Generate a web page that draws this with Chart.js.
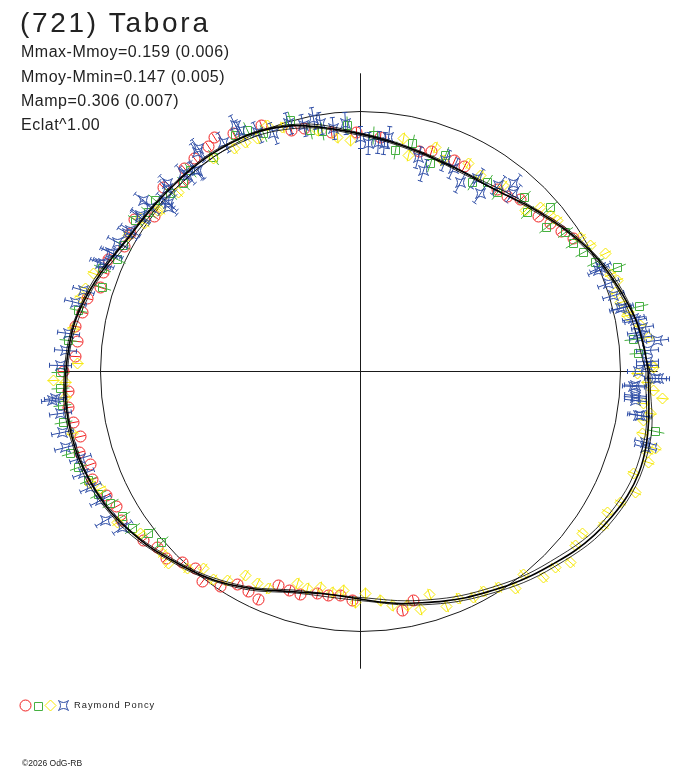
<!DOCTYPE html>
<html>
<head>
<meta charset="utf-8">
<script src="https://cdn.jsdelivr.net/npm/chart.js@4.4.1/dist/chart.umd.min.js"></script>
<style>
  html, body { margin: 0; padding: 0; background: #fff; }
  #wrap { position: relative; width: 688px; height: 768px; overflow: hidden; }
  #plot { position: absolute; left: 0; top: 0; }
  .txt { position: absolute; font-family: 'Liberation Sans', Arial, sans-serif; color: #222; white-space: nowrap; line-height: 1; }
  #title { left: 20px; top: 8.5px; font-size: 28px; letter-spacing: 2.7px; }
  .stat { left: 21px; font-size: 16px; letter-spacing: 0.5px; }
  #observer { left: 74px; top: 701px; font-size: 9.3px; letter-spacing: 1px; }
  #copy { left: 22px; top: 759px; font-size: 8.5px; }
</style>
</head>
<body>
<div id="wrap">
  <canvas id="plot" width="688" height="768"></canvas>
  <div class="txt" id="title">(721) Tabora</div>
  <div class="txt stat" style="top:44px">Mmax-Mmoy=0.159 (0.006)</div>
  <div class="txt stat" style="top:68.5px">Mmoy-Mmin=0.147 (0.005)</div>
  <div class="txt stat" style="top:93px">Mamp=0.306 (0.007)</div>
  <div class="txt stat" style="top:117px">Eclat^1.00</div>
  <div class="txt" id="observer">Raymond Poncy</div>
  <div class="txt" id="copy">©2026 OdG-RB</div>
</div>
<script>
// Polar light curve: phase in degrees, relative flux (reference circle = 1)

const fitPhase = [0, 5, 10, 15, 20, 25, 30, 35, 40, 45, 50, 55, 60, 65, 70, 75, 80, 85, 90, 95,
  100, 105, 110, 115, 120, 125, 130, 135, 140, 145, 150, 155, 160, 165, 170, 175, 180, 185, 190, 195,
  200, 205, 210, 215, 220, 225, 230, 235, 240, 245, 250, 255, 260, 265, 270, 275, 280, 285, 290, 295,
  300, 305, 310, 315, 320, 325, 330, 335, 340, 345, 350, 355, 360];
const fitFlux = [1.108, 1.096, 1.081, 1.058, 1.035, 1.012, 0.985, 0.957, 0.928, 0.904, 0.881, 0.866, 0.862, 0.862, 0.865, 0.873, 0.884, 0.897, 0.912, 0.931,
  0.954, 0.977, 0.993, 1.004, 1.008, 1.011, 1.012, 1.012, 1.015, 1.019, 1.027, 1.046, 1.069, 1.092, 1.112, 1.123, 1.131, 1.138, 1.138, 1.135,
  1.127, 1.115, 1.100, 1.077, 1.054, 1.027, 1.004, 0.981, 0.954, 0.927, 0.900, 0.881, 0.869, 0.869, 0.877, 0.892, 0.908, 0.923, 0.942, 0.962,
  0.981, 1.004, 1.027, 1.050, 1.077, 1.100, 1.119, 1.135, 1.142, 1.138, 1.127, 1.115, 1.108];

const boundPhase = [0, 15, 30, 45, 60, 75, 90, 105, 120, 135, 150, 165, 180, 195, 210, 225, 240, 255, 270, 285, 300, 315, 330, 345, 360];
const fitInner = [1.100, 1.050, 0.979, 0.898, 0.857, 0.868, 0.906, 0.966, 0.994, 0.998, 1.015, 1.084, 1.125, 1.129, 1.094, 1.021, 0.948, 0.875, 0.871, 0.913, 0.969, 1.036, 1.105, 1.126, 1.100];
const fitOuter = [1.115, 1.064, 0.990, 0.909, 0.866, 0.877, 0.916, 0.982, 1.012, 1.016, 1.031, 1.098, 1.137, 1.141, 1.106, 1.033, 0.960, 0.886, 0.883, 0.931, 0.991, 1.062, 1.131, 1.150, 1.115];

const redPhase = [32, 35, 38, 41, 47, 50, 53, 63, 66, 72, 75, 85, 91, 97, 103, 106, 112, 118, 122, 124,
  128, 131, 133, 137, 143, 146, 149, 152, 156, 159, 162, 165, 168, 171, 174, 177, 180, 184, 187, 190,
  193, 196, 199, 202, 206, 209, 212, 218, 221, 224, 227, 230, 233, 237, 240, 243, 246, 249, 252, 255,
  259, 262, 265, 268, 280, 283];
const redFlux = [0.968, 0.942, 0.925, 0.907, 0.903, 0.878, 0.876, 0.885, 0.888, 0.889, 0.875, 0.904, 0.920, 0.927, 0.958, 0.963, 1.021, 1.038, 1.060, 1.045,
  1.039, 1.034, 1.000, 1.037, 0.992, 1.048, 1.034, 1.028, 1.063, 1.058, 1.051, 1.089, 1.093, 1.109, 1.095, 1.098, 1.141, 1.124, 1.130, 1.119,
  1.105, 1.125, 1.097, 1.112, 1.088, 1.074, 1.083, 1.058, 1.033, 1.035, 1.004, 0.989, 1.010, 0.987, 0.948, 0.948, 0.960, 0.883, 0.886, 0.887,
  0.870, 0.871, 0.865, 0.882, 0.933, 0.904];

const greenPhase = [3.6, 6.6, 13.1, 22.1, 24.9, 28.1, 31.1, 34.2, 37.7, 40.7, 43.7, 46.7, 52.7, 56.2, 59.5, 68.5, 71.4, 77.2, 81, 86.8,
  93.1, 99, 101.7, 105.6, 112.1, 115.2, 117.9, 124.4, 130.2, 133.3, 136.9, 140.2, 143, 146.1, 152, 155.2, 158.3, 161.9, 167.8, 173.9,
  180.1, 183.3, 186.5, 189.7, 195.8, 198.8, 201.9, 205.1, 207.9, 211.4, 214.6, 217.5, 220.7, 348.5];
const greenFlux = [1.073, 1.056, 1.103, 1.066, 0.997, 0.974, 0.955, 0.953, 0.904, 0.965, 0.887, 0.920, 0.867, 0.876, 0.845, 0.893, 0.845, 0.898, 0.861, 0.909,
  0.948, 0.935, 0.946, 1.002, 0.987, 1.024, 1.027, 0.999, 1.013, 0.992, 1.000, 1.027, 1.019, 1.042, 1.031, 1.031, 1.069, 1.045, 1.108, 1.128,
  1.154, 1.156, 1.155, 1.158, 1.160, 1.144, 1.126, 1.111, 1.088, 1.074, 1.066, 1.026, 1.011, 1.158];

const yellowPhase = [0.8, 1.2, 6.8, 9.3, 11.9, 12.5, 14.9, 17.3, 19.5, 21.3, 25.7, 28.7, 31.4, 37.5, 39.4, 42.4, 44.3, 52.4, 58.5, 62.5,
  68.8, 71.5, 77.4, 79.5, 92.5, 95.7, 100.2, 107.8, 110.8, 113.9, 116.6, 119.6, 124.6, 135.4, 141.2, 141.6, 145.2, 145.7, 149.6, 159.9,
  163.3, 165.1, 171.5, 178.4, 181.7, 182.1, 185, 192.2, 202.6, 204.3, 211.8, 216.4, 222.6, 225.1, 228.7, 231.5, 234.8, 237.5, 240.6, 244,
  247.1, 253.4, 256.2, 259.5, 262.7, 265.6, 268.8, 271.3, 275, 277.7, 281.3, 284.1, 287.3, 290.2, 293.4, 296.5, 299.3, 302.6, 305.5, 308.8,
  311.7, 314.9, 317.8, 321, 323.9, 327.7, 330.3, 333.3, 336.3, 339.5, 342.5, 344.3, 345.3, 347.5, 350.2, 351.7, 353.5, 354.8, 356.3, 357.9,
  359.5];
const yellowFlux = [1.128, 1.122, 1.117, 1.092, 1.048, 1.057, 1.035, 1.027, 1.047, 1.032, 1.045, 1.009, 0.992, 0.954, 0.945, 0.937, 0.887, 0.903, 0.884, 0.901,
  0.870, 0.910, 0.851, 0.910, 0.889, 0.906, 0.942, 0.987, 1.012, 0.979, 0.987, 0.985, 0.994, 0.982, 0.987, 0.997, 1.030, 1.008, 1.033, 1.092,
  1.105, 1.114, 1.115, 1.090, 1.180, 1.135, 1.139, 1.135, 1.125, 1.097, 1.100, 1.052, 1.036, 1.044, 1.010, 0.969, 0.980, 0.953, 0.901, 0.908,
  0.907, 0.852, 0.860, 0.844, 0.856, 0.845, 0.887, 0.853, 0.884, 0.908, 0.918, 0.945, 0.898, 0.963, 0.952, 0.970, 0.969, 0.987, 1.027, 1.002,
  1.060, 1.063, 1.091, 1.064, 1.055, 1.108, 1.092, 1.119, 1.155, 1.122, 1.162, 1.145, 1.173, 1.110, 1.106, 1.127, 1.097, 1.165, 1.130, 1.103,
  1.064];

const bluePhase = [1.2, 1.9, 4.2, 6, 7, 8, 8.9, 10.5, 10.9, 13.6, 13.8, 16.7, 19.5, 23, 23.5, 49.2, 50.8, 53.4, 56, 58.8,
  62.2, 65.3, 68.1, 72.5, 74.8, 83.1, 84.1, 85.4, 87.9, 90, 93.5, 96.3, 99.2, 100.5, 103, 106.1, 110, 113.3, 116.5, 117,
  120.8, 126, 126.7, 129.1, 129.4, 131.5, 131.8, 135.8, 136.6, 138.7, 138.8, 139.4, 141.7, 141.9, 144.7, 144.9, 148.5, 149.4, 152, 154.5,
  154.6, 157.2, 157.5, 163.7, 166.3, 172.6, 175.9, 178.9, 185.1, 185.4, 188, 191.5, 194.4, 197.3, 200.3, 203.2, 206.4, 210.3, 213.2, 345.1,
  346.1, 351, 351.1, 354, 354.7, 355, 356.9, 357.1, 358.6, 358.6, 359.9];
const blueFlux = [1.103, 1.103, 1.106, 1.147, 1.085, 1.081, 1.097, 1.076, 1.070, 1.029, 1.037, 1.017, 1.013, 0.995, 1.007, 0.903, 0.932, 0.892, 0.825, 0.867,
  0.823, 0.858, 0.875, 0.810, 0.854, 0.908, 0.880, 0.885, 0.876, 0.901, 0.954, 0.939, 0.965, 0.988, 0.971, 0.992, 0.973, 1.002, 1.035, 1.062,
  1.027, 1.058, 1.052, 0.996, 1.000, 1.006, 1.020, 1.036, 1.023, 0.998, 0.980, 0.971, 1.062, 1.025, 1.037, 1.033, 1.038, 1.042, 1.060, 1.065,
  1.057, 1.071, 1.082, 1.109, 1.128, 1.131, 1.137, 1.154, 1.178, 1.191, 1.165, 1.171, 1.172, 1.128, 1.135, 1.130, 1.116, 1.136, 1.095, 1.134,
  1.129, 1.083, 1.090, 1.063, 1.062, 1.062, 1.053, 1.059, 1.135, 1.148, 1.070];

const circleRadius = 1;
const axisReach = 1.145;
const plotHalfRange = 1.2308;

const markerColor = { red: '#f01e1e', green: '#46b040', yellow: '#f6e800', blue: '#2f4ea6' };
const barHalf = { red: 5, green: 9, yellow: 6, blue: 11 };
const spriteCache = {};

// marker with its radial error bar, drawn once per kind/angle
function sprite(kind, angle) {
  const key = kind + (angle == null ? 'L' : Math.round(angle));
  if (spriteCache[key]) return spriteCache[key];
  const c = document.createElement('canvas');
  c.width = 30; c.height = 30;
  const g = c.getContext('2d');
  g.translate(15.5, 15.5);
  g.strokeStyle = markerColor[kind];
  g.lineWidth = 1;
  g.beginPath();
  if (kind === 'red') {
    g.arc(0, 0, 5.5, 0, Math.PI * 2);
  } else if (kind === 'green') {
    g.rect(-4, -4, 8, 8);
  } else if (kind === 'yellow') {
    g.moveTo(0, -5.5); g.lineTo(5.5, 0); g.lineTo(0, 5.5); g.lineTo(-5.5, 0); g.closePath();
  } else {
    g.moveTo(-5, -5);
    g.quadraticCurveTo(0, -1, 5, -5);
    g.quadraticCurveTo(1, 0, 5, 5);
    g.quadraticCurveTo(0, 1, -5, 5);
    g.quadraticCurveTo(-1, 0, -5, -5);
  }
  g.stroke();
  if (angle != null) {
    const t = angle * Math.PI / 180, ux = Math.cos(t), uy = -Math.sin(t), h = barHalf[kind];
    g.beginPath();
    g.moveTo(-ux * h, -uy * h);
    g.lineTo(ux * h, uy * h);
    if (kind === 'blue') {
      const px = -uy * 2.5, py = ux * 2.5;
      g.moveTo(ux * h + px, uy * h + py); g.lineTo(ux * h - px, uy * h - py);
      g.moveTo(-ux * h + px, -uy * h + py); g.lineTo(-ux * h - px, -uy * h - py);
    }
    g.stroke();
  }
  spriteCache[key] = c;
  return c;
}

function polar(phase, flux) {
  return phase.map((a, i) => ({
    x: flux[i] * Math.cos(a * Math.PI / 180),
    y: flux[i] * Math.sin(a * Math.PI / 180),
    a: a
  }));
}

function pointSet(kind, phase, flux) {
  return {
    data: polar(phase, flux),
    showLine: false,
    clip: false,
    pointRadius: 5,
    pointStyle: (ctx) => (ctx.raw ? sprite(kind, ctx.raw.a) : 'circle')
  };
}

function curveSet(phase, flux, width, tension) {
  return {
    data: polar(phase, flux),
    showLine: true,
    pointRadius: 0,
    borderColor: '#000',
    borderWidth: width,
    tension: tension,
    fill: false
  };
}

// reference circle and axes, through the chart scales
const frame = {
  id: 'frame',
  beforeDatasetsDraw(chart) {
    const { ctx, scales: { x, y } } = chart;
    ctx.imageSmoothingEnabled = false;
    const cx = Math.round(x.getPixelForValue(0)) + 0.5;
    const cy = Math.round(y.getPixelForValue(0)) + 0.5;
    const r = x.getPixelForValue(circleRadius) - x.getPixelForValue(0);
    ctx.save();
    ctx.strokeStyle = '#1a1a1a';
    ctx.lineWidth = 1;
    ctx.beginPath();
    ctx.moveTo(x.getPixelForValue(-axisReach), cy);
    ctx.lineTo(x.getPixelForValue(axisReach), cy);
    ctx.moveTo(cx, y.getPixelForValue(axisReach));
    ctx.lineTo(cx, y.getPixelForValue(-axisReach));
    ctx.stroke();
    ctx.beginPath();
    ctx.arc(cx, cy, r, 0, Math.PI * 2);
    ctx.stroke();
    ctx.restore();
  },
  afterDraw(chart) {
    // legend symbols next to the observer name
    const ctx = chart.ctx;
    [['red', 25, 705], ['green', 37.5, 705.5], ['yellow', 50, 705], ['blue', 62.5, 705]].forEach(([k, lx, ly]) => {
      ctx.drawImage(sprite(k, null), Math.round(lx - 15), Math.round(ly - 15));
    });
  }
};

new Chart(document.getElementById('plot'), {
  type: 'scatter',
  data: {
    datasets: [
      curveSet(fitPhase, fitFlux, 1.6, 0.3),
      curveSet(boundPhase, fitInner, 0.8, 0.4),
      curveSet(boundPhase, fitOuter, 0.8, 0.4),
      pointSet('blue', bluePhase, blueFlux),
      pointSet('yellow', yellowPhase, yellowFlux),
      pointSet('green', greenPhase, greenFlux),
      pointSet('red', redPhase, redFlux)
    ]
  },
  options: {
    responsive: false,
    animation: false,
    layout: { padding: { left: 40, right: 8, top: 51, bottom: 77 } },
    plugins: { legend: { display: false }, tooltip: { enabled: false } },
    scales: {
      x: { type: 'linear', display: false, min: -plotHalfRange, max: plotHalfRange },
      y: { type: 'linear', display: false, min: -plotHalfRange, max: plotHalfRange }
    }
  },
  plugins: [frame]
});
</script>
</body>
</html>
